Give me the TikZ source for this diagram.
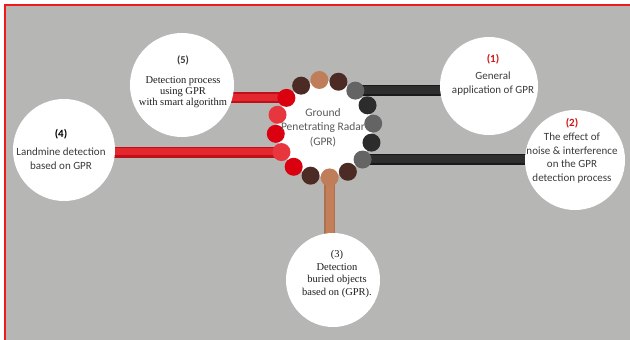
\documentclass[tikz,border=0pt]{standalone}
\usepackage{fontspec}
\setmainfont{Liberation Serif}
\newfontfamily\carl{Carlito}
\usetikzlibrary{calc}
\definecolor{bgray}{HTML}{B6B7B5}
\definecolor{framered}{HTML}{F01818}
\definecolor{dred}{HTML}{DA0010}
\definecolor{lred}{HTML}{E8363F}
\definecolor{dbrown}{HTML}{4B2B24}
\definecolor{tanc}{HTML}{C07D5A}
\definecolor{gdot}{HTML}{646464}
\definecolor{bdot}{HTML}{2C2C2C}
\definecolor{redbase}{HTML}{BE1018}
\definecolor{redhi}{HTML}{E4262E}
\definecolor{blkbase}{HTML}{1A1A1A}
\definecolor{blkhi}{HTML}{2E2E2E}
\definecolor{tanbase}{HTML}{AE714E}
\definecolor{tanhi}{HTML}{C27F5A}
\definecolor{ctext}{HTML}{5A5A5A}
\definecolor{otext}{HTML}{3A3A3A}
\definecolor{numred}{HTML}{D01515}
\definecolor{stext}{HTML}{1E1E1E}
\pgfdeclarelayer{back}
\pgfsetlayers{back,main}
\begin{document}
\begin{tikzpicture}[x=1pt,y=-1pt,
  dot/.style={circle,inner sep=0pt,minimum size=18pt},
  bubble/.style={circle,fill=white,inner sep=0pt},
  redbar/.style={draw=redbase,line width=11pt,
    postaction={draw=redhi,line width=7pt,transform canvas={yshift=0.8pt}}},
  blackbar/.style={draw=blkbase,line width=11pt,
    postaction={draw=blkhi,line width=8pt,transform canvas={yshift=0.8pt}}},
  tanbar/.style={draw=tanbase,line width=11pt,
    postaction={draw=tanhi,line width=8pt}},
  sanstext/.style={align=center,text=otext,inner sep=0pt,font=\carl\fontsize{11}{14}\selectfont},
  seriftext/.style={align=center,text=stext,inner sep=0pt,font=\fontsize{10.5}{12.8}\selectfont}]
\useasboundingbox (0,0) rectangle (630,340);
\begin{pgfonlayer}{back}
  \fill[white] (0,0) rectangle (630,340);
  \fill[bgray] (5,5) rectangle (630,340);
  \draw[framered,line width=1.5pt] (5,340) -- (5,5) -- (630,5);
\end{pgfonlayer}
% central hub
\coordinate (ctr) at (324.5,128.7);
\node[bubble,minimum size=96pt] (hub) at (ctr) {};
\foreach \k/\c in {0/tanc,1/dbrown,2/dred,3/lred,4/dred,5/lred,6/dred,7/dbrown,
                   8/tanc,9/dbrown,10/gdot,11/bdot,12/gdot,13/bdot,14/gdot,15/dbrown}
  \node[dot,fill=\c] (d\k) at ($(ctr)+(96+22.5*\k:49pt)$) {};
\node[align=center,text=ctext,inner sep=0pt,font=\carl\fontsize{11.5}{14.5}\selectfont]
  (tc) at (323,127.5) {Ground\\Penetrating Radar\\(GPR)};
% outer bubbles
\node[bubble,minimum size=104pt] (c5) at (182,85) {};
\node[bubble,minimum size=98pt] (c1) at (489,86) {};
\node[bubble,minimum size=100pt] (c2) at (575,160) {};
\node[bubble,minimum size=102pt] (c4) at (64,150) {};
\node[bubble,minimum size=94pt] (c3) at (333,280) {};
% connectors
\begin{pgfonlayer}{back}
  \draw[redbar] (d2.center) -- (d2.center -| c5.center);
  \draw[redbar] (d5.center) -- (d5.center -| c4.center);
  \draw[blackbar] (d14.center) -- (d14.center -| c1.center);
  \draw[blackbar] (d10.center) -- (d10.center -| c2.center);
  \draw[tanbar] (d8.center) -- (d8.center |- c3.center);
\end{pgfonlayer}
% texts
\node[seriftext,font=\fontsize{10.5}{11}\selectfont] (t5) at (183,82)
  {{\carl\bfseries\fontsize{10.5}{11}\selectfont\color{otext}(5)}\\[9pt]Detection process\\using GPR\\with smart algorithm};
\node[sanstext] (t1) at (493,75)
  {{\bfseries\color{numred}(1)}\\[3pt]General\\application of GPR};
\node[sanstext,font=\carl\fontsize{11}{13.8}\selectfont] (t2) at (572,151)
  {{\bfseries\color{numred}(2)}\\The effect of\\noise \& interference\\on the GPR\\detection process};
\node[sanstext,font=\carl\fontsize{11}{13.5}\selectfont] (t4) at (61,149)
  {{\bfseries\color{black}(4)}\\[5pt]Landmine detection\\based on GPR};
\node[seriftext] (t3) at (337,274)
  {(3)\\Detection\\buried objects\\based on (GPR).};
\end{tikzpicture}
\end{document}
